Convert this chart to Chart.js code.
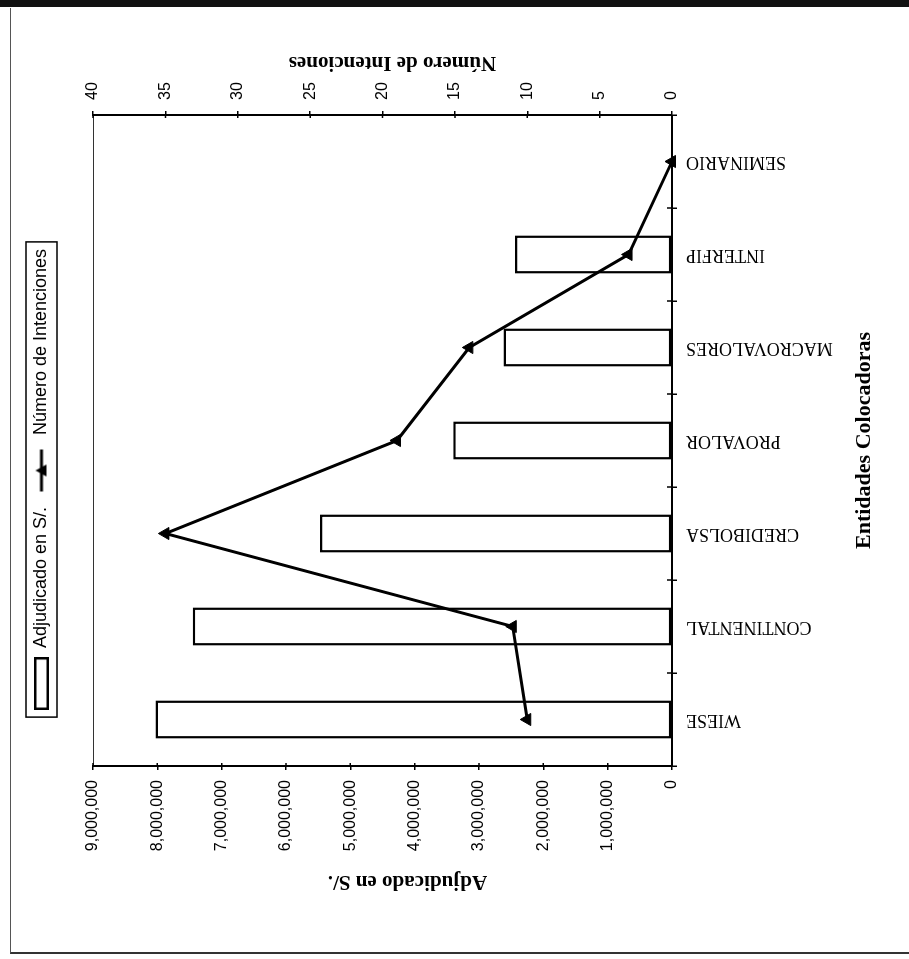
<!DOCTYPE html>
<html>
<head>
<meta charset="utf-8">
<title>Entidades Colocadoras</title>
<script src="https://cdn.jsdelivr.net/npm/chart.js@4/dist/chart.umd.min.js"></script>
<style>
  html, body { margin: 0; padding: 0; background: #fff; }
  body { width: 909px; height: 959px; position: relative; overflow: hidden; }
  #band { position: absolute; left: 0; top: 0; width: 909px; height: 7px; background: #111; }
  #frame { position: absolute; left: 10px; top: 8px; width: 899px; height: 946px; box-sizing: border-box;
           border-left: 1px solid #555; border-bottom: 2px solid #333; }
  /* the chart is laid out upright and turned a quarter turn counter-clockwise on the page */
  #wrap { position: absolute; left: 0; top: 0; width: 959px; height: 909px;
          transform-origin: 0 0; transform: translate(0, 959px) rotate(-90deg); }
</style>
</head>
<body>
<div id="band"></div>
<div id="frame"></div>
<div id="wrap"><canvas id="chart" width="959" height="909"></canvas></div>
<script>
const categories = ['WIESE', 'CONTINENTAL', 'CREDIBOLSA', 'PROVALOR', 'MACROVALORES', 'INTERFIP', 'SEMINARIO'];
const adjudicado = [8030000, 7450000, 5470000, 3400000, 2620000, 2440000, 0];
const intenciones = [10, 11, 35, 19, 14, 3, 0];
const adjudicadoTicks = [0, 1000000, 2000000, 3000000, 4000000, 5000000, 6000000, 7000000, 8000000, 9000000];
const intencionesTicks = [0, 5, 10, 15, 20, 25, 30, 35, 40];

const SANS = "'Liberation Sans', Arial, sans-serif";
const SERIF = "'Liberation Serif', 'Times New Roman', serif";
const titleFont = { family: SERIF, size: 22, weight: 'bold' };

Chart.defaults.font.family = SANS;
Chart.defaults.color = '#000';

// legend symbols: an outlined box for the bars, a line with a triangle for the series line
function barSwatch() {
  const c = document.createElement('canvas');
  c.width = 53; c.height = 15;
  const g = c.getContext('2d');
  g.fillStyle = '#fff'; g.fillRect(0, 0, 53, 15);
  g.strokeStyle = '#000'; g.lineWidth = 2.5; g.strokeRect(1.25, 1.25, 50.5, 12.5);
  return c;
}
function lineSwatch() {
  const c = document.createElement('canvas');
  c.width = 44; c.height = 16;
  const g = c.getContext('2d');
  g.strokeStyle = '#000'; g.lineWidth = 3;
  g.beginPath(); g.moveTo(1, 8); g.lineTo(43, 8); g.stroke();
  g.fillStyle = '#000';
  g.beginPath(); g.moveTo(22, 2); g.lineTo(28, 13); g.lineTo(16, 13); g.closePath(); g.fill();
  return c;
}
const legendSymbols = [barSwatch(), lineSwatch()];

// an axis title written bottom to top, centred on (cx, cy)
function verticalTitle(ctx, text, cx, cy) {
  ctx.save();
  ctx.font = 'bold 21px ' + SERIF;
  ctx.fillStyle = '#000';
  ctx.textAlign = 'center';
  ctx.textBaseline = 'middle';
  ctx.translate(cx, cy);
  ctx.rotate(-Math.PI / 2);
  ctx.fillText(text, 0, 0);
  ctx.restore();
}

const decorations = {
  id: 'decorations',
  afterDraw(chart) {
    const { ctx, chartArea: a, scales } = chart;
    const { x, y, y2 } = scales;
    ctx.save();
    // inner halves of the axis tick marks
    ctx.strokeStyle = '#000';
    ctx.lineWidth = 1.5;
    ctx.beginPath();
    adjudicadoTicks.forEach(v => { const p = y.getPixelForValue(v); ctx.moveTo(a.left, p); ctx.lineTo(a.left + 3, p); });
    intencionesTicks.forEach(v => { const p = y2.getPixelForValue(v); ctx.moveTo(a.right, p); ctx.lineTo(a.right - 3, p); });
    for (let i = 1; i < categories.length; i++) {
      const p = (x.getPixelForValue(i - 1) + x.getPixelForValue(i)) / 2;
      ctx.moveTo(p, a.bottom); ctx.lineTo(p, a.bottom - 5);
    }
    ctx.stroke();

    // frame round the legend
    const hb = chart.legend.legendHitBoxes;
    if (hb && hb.length) {
      const l = Math.min(...hb.map(h => h.left)) - 7;
      const r = Math.max(...hb.map(h => h.left + h.width)) + 7;
      const t = hb[0].top - 6.5;
      const b = hb[0].top + hb[0].height + 6.5;
      ctx.lineWidth = 1.5;
      ctx.strokeRect(l, t, r - l, b - t);
    }
    ctx.restore();

    const mid = (a.top + a.bottom) / 2;
    verticalTitle(ctx, 'Adjudicado en S/.', y.left + 78, mid + 25);
    verticalTitle(ctx, 'Número de Intenciones', y2.left + 53, mid + 10);
  }
};

new Chart(document.getElementById('chart'), {
  type: 'bar',
  data: {
    labels: categories,
    datasets: [
      {
        type: 'bar',
        label: 'Adjudicado en S/.',
        data: adjudicado,
        yAxisID: 'y',
        xAxisID: 'x',
        backgroundColor: '#fff',
        borderColor: '#000',
        borderWidth: 2.5,
        borderSkipped: false,
        barPercentage: 0.41,
        categoryPercentage: 1,
        order: 1
      },
      {
        type: 'line',
        label: 'Número de Intenciones',
        data: intenciones,
        yAxisID: 'y2',
        xAxisID: 'x',
        borderColor: '#000',
        borderWidth: 3,
        pointStyle: 'triangle',
        pointRadius: 7,
        pointBackgroundColor: '#000',
        pointBorderColor: '#000',
        pointBorderWidth: 1,
        tension: 0,
        fill: false,
        clip: false,
        order: 0
      }
    ]
  },
  options: {
    responsive: false,
    animation: false,
    devicePixelRatio: 1,
    layout: { padding: { top: 22.5, left: 0, right: 0, bottom: 0 } },
    plugins: {
      tooltip: { enabled: false },
      legend: {
        position: 'top',
        align: 'center',
        labels: {
          usePointStyle: true,
          pointStyleWidth: 53,
          boxHeight: 15,
          padding: 10,
          color: '#000',
          font: { family: SANS, size: 18 },
          sort: (a, b) => a.datasetIndex - b.datasetIndex,
          generateLabels(chart) {
            const items = Chart.defaults.plugins.legend.labels.generateLabels(chart);
            items.forEach(it => { it.pointStyle = legendSymbols[it.datasetIndex]; });
            return items;
          }
        }
      }
    },
    scales: {
      x: {
        type: 'category',
        position: 'bottom',
        offset: true,
        grid: { display: true, offset: true, drawOnChartArea: false, tickLength: 5, color: '#000', lineWidth: 1.5 },
        border: { display: true, color: '#000', width: 2 },
        ticks: { autoSkip: false, minRotation: 90, maxRotation: 90, padding: 9, color: '#000',
                 font: { family: SERIF, size: 18 } },
        title: { display: true, text: 'Entidades Colocadoras', color: '#000', font: titleFont,
                 padding: { top: 0, bottom: 31 } },
        afterFit(s) { s.height = 237; }
      },
      x2: {
        type: 'category',
        position: 'top',
        offset: true,
        grid: { display: false },
        ticks: { display: false },
        border: { display: true, color: '#333', width: 1 },
        afterFit(s) { s.height = 32.5; }
      },
      y: {
        type: 'linear',
        position: 'left',
        min: adjudicadoTicks[0],
        max: adjudicadoTicks[adjudicadoTicks.length - 1],
        afterBuildTicks(s) { s.ticks = adjudicadoTicks.map(v => ({ value: v })); },
        grid: { drawOnChartArea: false, tickLength: 4, color: '#000', lineWidth: 1.5 },
        border: { display: true, color: '#000', width: 2 },
        ticks: { padding: 10, color: '#000', font: { family: SANS, size: 16 },
                 callback: v => Number(v).toLocaleString('en-US') },
        title: { display: false },
        afterFit(s) { s.width = 193; }
      },
      y2: {
        type: 'linear',
        position: 'right',
        min: intencionesTicks[0],
        max: intencionesTicks[intencionesTicks.length - 1],
        afterBuildTicks(s) { s.ticks = intencionesTicks.map(v => ({ value: v })); },
        grid: { drawOnChartArea: false, tickLength: 4, color: '#000', lineWidth: 1.5 },
        border: { display: true, color: '#000', width: 2 },
        ticks: { padding: 11, color: '#000', font: { family: SANS, size: 16 } },
        title: { display: false },
        afterFit(s) { s.width = 115; }
      }
    }
  },
  plugins: [decorations]
});
</script>
</body>
</html>
